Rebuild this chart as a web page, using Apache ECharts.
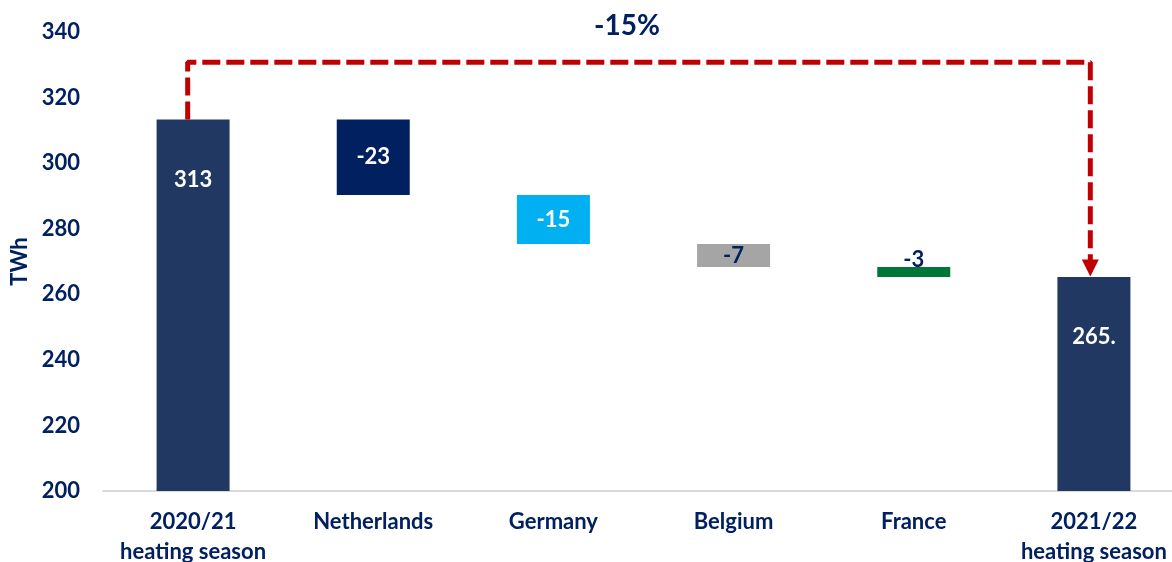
<!DOCTYPE html>
<html>
<head>
<meta charset="utf-8">
<style>
  html, body { margin: 0; padding: 0; background: #fff; }
  #chart { width: 1172px; height: 562px; }
</style>
<script src="https://cdn.jsdelivr.net/npm/echarts@6/dist/echarts.min.js"></script>
</head>
<body>
<div id="chart"></div>
<script>
// waterfall data
const categories = ['2020/21\nheating season', 'Netherlands', 'Germany', 'Belgium', 'France', '2021/22\nheating season'];
const startValue = 313.3;
const changes = [-23, -15, -7, -3];
const endValue = 265.3;
const labelTexts = ['313', '-23', '-15', '-7', '-3', '265.'];
const yTicks = [200, 220, 240, 260, 280, 300, 320, 340];

// connector (dashed arrow) points, x in category index units
const connectorX = [-0.03, -0.03, 4.98, 4.98];
const connectorY = [313.3, 330.8, 330.8, 268];
const totalChange = '-15%';

const barColors = ['#213862', '#002060', '#00B0F0', '#A5A5A5', '#00763A', '#213862'];
const labelColors = ['#fff', '#fff', '#fff', '#002060', '#002060', '#fff'];
const navy = '#002060';
const font = 'Lato';

// build invisible base + visible part
let level = startValue;
const base = [0];
const heights = [startValue];
changes.forEach(c => {
  const next = level + c;
  base.push(Math.min(level, next));
  heights.push(Math.abs(c));
  level = next;
});
base.push(0);
heights.push(endValue);

const labelPos = (i) => {
  if (i === 0 || i === 5) return { position: 'insideTop', distance: 49 };
  if (i === 4) return { position: 'top', distance: -4 };
  return { position: 'inside' };
};

const chart = echarts.init(document.getElementById('chart'));
const option = {
  animation: false,
  title: {
    text: totalChange,
    left: 622,
    top: 7,
    textAlign: 'center',
    textStyle: { color: navy, fontFamily: font, fontWeight: 'bold', fontSize: 28 }
  },
  grid: { left: 103, top: 32, width: 1081, bottom: 71, outerBoundsMode: 'none' },
  xAxis: [{
    type: 'category',
    data: categories,
    axisLine: { lineStyle: { color: '#D9D9D9', width: 2 } },
    axisTick: { show: false },
    axisLabel: {
      color: navy, fontFamily: font, fontWeight: 'bold', fontSize: 22,
      lineHeight: 30, margin: 16, interval: 0
    }
  }, {
    type: 'value', min: -0.5, max: 5.5, show: false
  }],
  yAxis: {
    type: 'value',
    min: yTicks[0],
    max: yTicks[yTicks.length - 1],
    interval: 20,
    name: 'TWh',
    nameLocation: 'middle',
    nameGap: 72,
    nameTextStyle: { color: navy, fontFamily: font, fontWeight: 'bold', fontSize: 22 },
    axisLine: { show: false },
    axisTick: { show: false },
    splitLine: { show: false },
    axisLabel: { color: navy, fontFamily: font, fontWeight: 'bold', fontSize: 22, margin: 23 }
  },
  series: [{
    type: 'bar',
    stack: 'w',
    barWidth: 73,
    itemStyle: { color: 'transparent' },
    emphasis: { disabled: true },
    data: base
  }, {
    type: 'bar',
    stack: 'w',
    barWidth: 73,
    data: heights.map((v, i) => ({
      value: v,
      itemStyle: { color: barColors[i] },
      label: Object.assign({
        show: true,
        formatter: labelTexts[i],
        color: labelColors[i],
        fontFamily: font,
        fontWeight: 'bold',
        fontSize: 22
      }, labelPos(i))
    }))
  }, {
    type: 'line',
    xAxisIndex: 1,
    z: 5,
    lineStyle: { color: '#C00000', width: 5, type: [18, 6] },
    itemStyle: { color: '#C00000' },
    data: connectorX.map((x, i) => {
      const last = i === connectorX.length - 1;
      return {
        value: [x, connectorY[i]],
        symbol: last ? 'triangle' : 'none',
        symbolSize: last ? [17, 17] : 0,
        symbolRotate: last ? 180 : 0
      };
    })
  }]
};
chart.setOption(option);
</script>
</body>
</html>
